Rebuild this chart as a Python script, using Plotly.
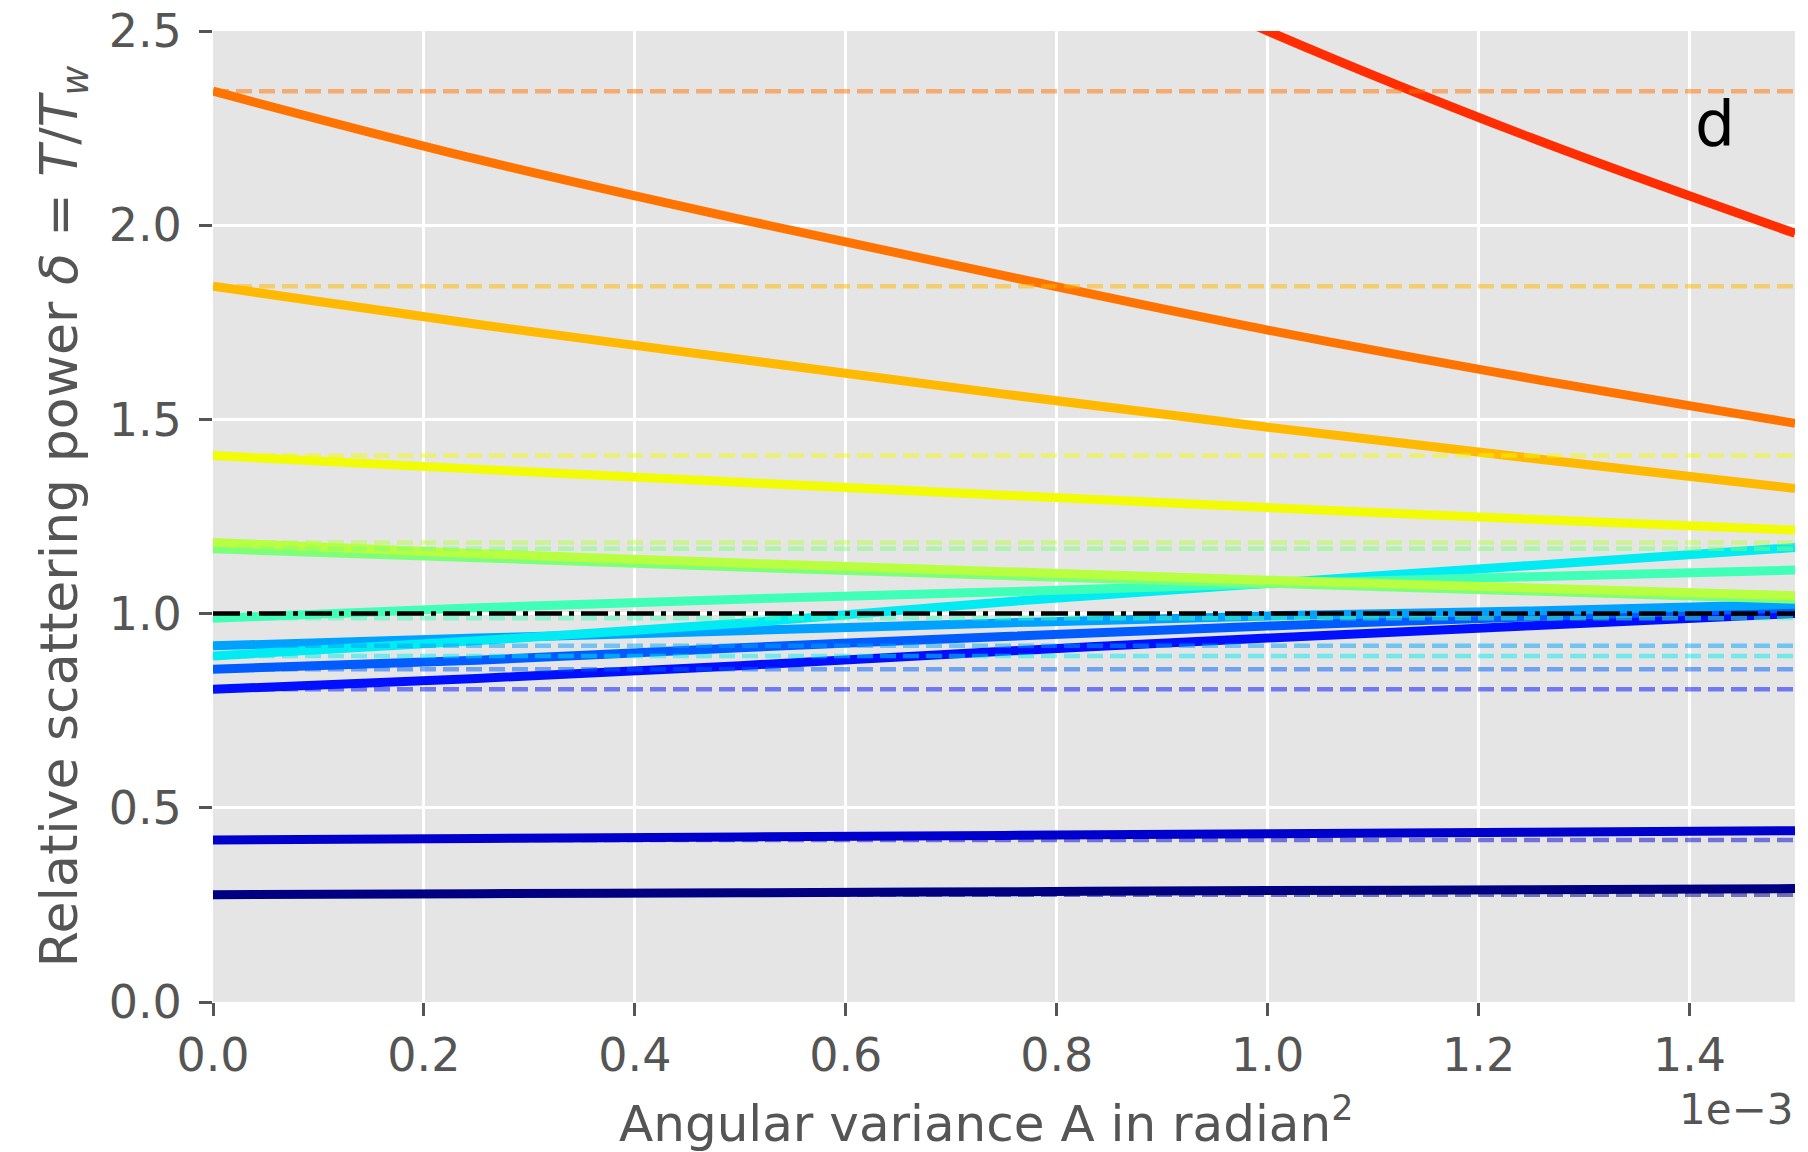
import plotly.graph_objects as go

# Angular variance A (radian^2) at which curves were read
A = [0.0, 0.25e-3, 0.5e-3, 0.75e-3, 1.0e-3, 1.25e-3, 1.5e-3]

# Relative scattering power read at each A, one list per curve
delta_navy      = [0.276, 0.279, 0.281, 0.284, 0.287, 0.289, 0.292]
delta_darkblue  = [0.417, 0.421, 0.425, 0.429, 0.433, 0.437, 0.441]
delta_blue      = [0.805, 0.833, 0.866, 0.903, 0.937, 0.969, 1.000]
delta_azure     = [0.857, 0.880, 0.912, 0.941, 0.968, 0.992, 1.015]
delta_skyblue   = [0.917, 0.937, 0.956, 0.976, 0.994, 1.007, 1.024]
delta_cyan      = [0.891, 0.930, 0.975, 1.030, 1.078, 1.124, 1.170]
delta_aqua      = [0.988, 1.015, 1.037, 1.056, 1.077, 1.095, 1.112]
delta_green     = [1.167, 1.144, 1.120, 1.098, 1.078, 1.058, 1.037]
delta_lime      = [1.183, 1.155, 1.130, 1.108, 1.086, 1.066, 1.046]
delta_yellow    = [1.407, 1.372, 1.338, 1.305, 1.273, 1.243, 1.215]
delta_amber     = [1.843, 1.745, 1.655, 1.565, 1.480, 1.400, 1.322]
delta_orange    = [2.345, 2.170, 2.015, 1.870, 1.730, 1.605, 1.490]
delta_red       = [3.990, 3.550, 3.160, 2.810, 2.500, 2.225, 1.979]

reference_delta = [1.0, 1.0]

x_tick_vals = [0.0, 0.2e-3, 0.4e-3, 0.6e-3, 0.8e-3, 1.0e-3, 1.2e-3, 1.4e-3]
x_tick_text = ["0.0", "0.2", "0.4", "0.6", "0.8", "1.0", "1.2", "1.4"]
y_tick_vals = [0.0, 0.5, 1.0, 1.5, 2.0, 2.5]

series = [
    ("#000080", delta_navy),
    ("#0000cc", delta_darkblue),
    ("#0010ff", delta_blue),
    ("#005cff", delta_azure),
    ("#00a2ff", delta_skyblue),
    ("#00ecf2", delta_cyan),
    ("#40ffb7", delta_aqua),
    ("#7dff7a", delta_green),
    ("#b7ff40", delta_lime),
    ("#f1fc06", delta_yellow),
    ("#ffb900", delta_amber),
    ("#ff7300", delta_orange),
    ("#ff2d00", delta_red),
]

fig = go.Figure()
for color, vals in series:
    fig.add_trace(go.Scatter(x=A, y=vals, mode="lines",
                             line=dict(color=color, width=9, shape="spline"),
                             showlegend=False, hoverinfo="skip"))
for color, vals in series:
    fig.add_trace(go.Scatter(x=[A[0], A[-1]], y=[vals[0], vals[0]], mode="lines",
                             line=dict(color=color, width=4.5, dash="16px,7px"),
                             opacity=0.5, showlegend=False, hoverinfo="skip"))
fig.add_trace(go.Scatter(x=[A[0], A[-1]], y=reference_delta, mode="lines",
                         line=dict(color="black", width=4.5, dash="27px,7px,5px,7px"),
                         showlegend=False, hoverinfo="skip"))

tick_font = dict(family="DejaVu Sans", size=46, color="#555555")

# page body has an 8px margin, so the figure is 8px smaller than the window
fig.update_layout(
    width=1800, height=1144,
    margin=dict(l=205, r=13, t=23, b=150),
    paper_bgcolor="white", plot_bgcolor="#E5E5E5",
    font=dict(family="DejaVu Sans"),
    xaxis=dict(range=[0, 1.5e-3], tickvals=x_tick_vals, ticktext=x_tick_text,
               showgrid=True, gridcolor="white", gridwidth=3, zeroline=False,
               ticks="outside", ticklen=13, tickwidth=3, tickcolor="#555555",
               tickfont=tick_font, ticklabelstandoff=0, showline=False,
               automargin=False, ticklabeloverflow="allow"),
    yaxis=dict(range=[0, 2.5], tickvals=y_tick_vals, tickformat=".1f",
               showgrid=True, gridcolor="white", gridwidth=3, zeroline=False,
               ticks="outside", ticklen=13, tickwidth=3, tickcolor="#555555",
               tickfont=tick_font, ticklabelstandoff=8, showline=False,
               automargin=False, ticklabeloverflow="allow",
               title=dict(text="Relative scattering power <i>δ</i> = <i>T</i>/<i>T</i><sub><i>w</i></sub>",
                          font=dict(family="DejaVu Sans", size=52, color="#555555"),
                          standoff=14)),
)

fig.add_annotation(x=0.4886, y=-0.158, xref="paper", yref="paper",
                   text="Angular variance A in radian<sup>2</sup>",
                   showarrow=False, font=dict(family="DejaVu Sans", size=50, color="#555555"),
                   xanchor="center", yanchor="bottom")
fig.add_annotation(x=1.4246e-3, y=2.263, xref="x", yref="y", text="d",
                   showarrow=False, font=dict(family="DejaVu Sans", size=63, color="black"),
                   xanchor="center", yanchor="middle")
fig.add_annotation(x=1.0, y=-0.083, xref="paper", yref="paper", text="1e−3",
                   showarrow=False, font=dict(family="DejaVu Sans", size=42, color="#555555"),
                   xanchor="right", yanchor="top")

fig.write_html("out.html")
